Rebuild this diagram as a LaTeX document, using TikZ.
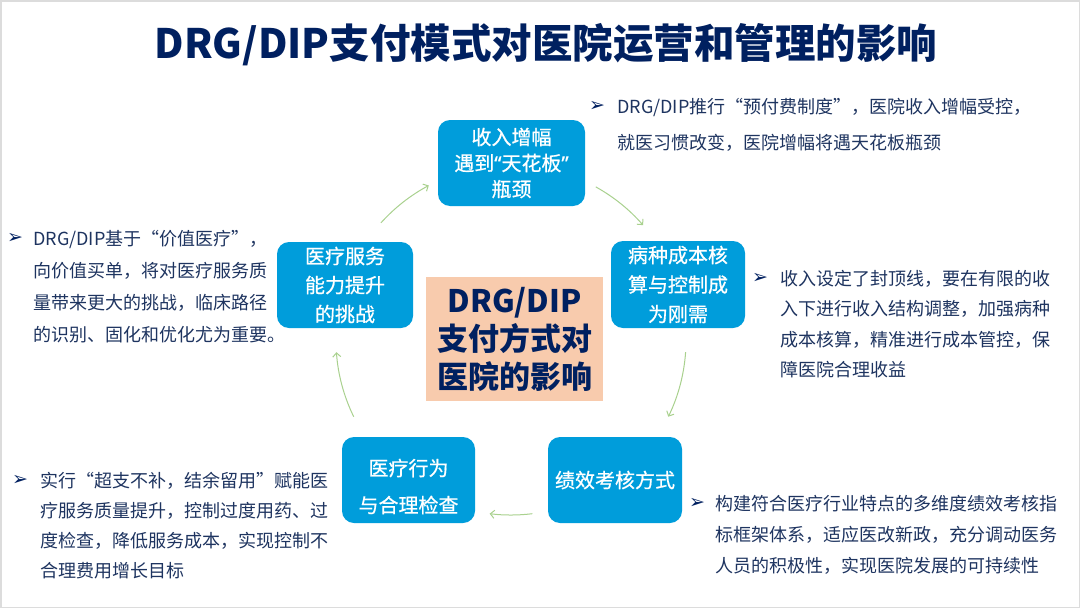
\documentclass[tikz,border=0pt]{standalone}
\usepackage{fontspec}
\setmainfont{Noto Sans CJK SC}
\newfontfamily\boxfont{Noto Sans CJK SC}[FakeBold=0.7]
\newfontfamily\bulletfont{DejaVu Sans}
\newfontfamily\qfont{Noto Sans}[FakeBold=0.7]
\usetikzlibrary{arrows.meta}
\definecolor{boxblue}{RGB}{0,157,219}
\definecolor{peach}{RGB}{248,203,173}
\definecolor{navy}{RGB}{0,32,96}
\definecolor{bodynavy}{RGB}{30,52,96}
\definecolor{arrgreen}{RGB}{169,209,142}
\definecolor{framegray}{RGB}{220,220,220}
\begin{document}
\begin{tikzpicture}[x=1pt,y=-1pt,
  bluebox/.style={fill=boxblue, rounded corners=12pt, text=white, align=center, inner sep=0pt},
  boxtext/.style={text=white, align=center, inner sep=0pt},
  centerbox/.style={fill=peach, text=navy, align=center, inner sep=0pt, font=\fontsize{31}{38}\selectfont\bfseries},
  textblock/.style={text=bodynavy, align=left, anchor=north west, inner sep=0pt},
  bullet/.style={text=navy, inner sep=0pt, font=\bulletfont\fontsize{19}{19}\selectfont},
  cyc/.style={draw=arrgreen, line width=1pt, -{Straight Barb[length=4pt,width=8pt]}}
]
\useasboundingbox (0,0) rectangle (1080,608);
\fill[white] (0,0) rectangle (1080,608);
\draw[framegray, line width=1.5pt] (0.75,0.75) rectangle (1079.25,607.25);

% title
\node[text=navy, inner sep=0pt, font=\fontsize{40.5}{48}\selectfont\bfseries] (title) at (546,45) {DRG/DIP支付模式对医院运营和管理的影响};

% blue boxes
\node[bluebox, minimum width=147pt, minimum height=86pt, font=\boxfont\fontsize{20}{26}\selectfont] (top) at (511.5,163) {收入增幅\\遇到{\qfont“}天花板{\qfont”}\\瓶颈};
\node[bluebox, minimum width=136pt, minimum height=86pt, font=\boxfont\fontsize{20}{29}\selectfont] (left) at (345,285) {医疗服务\\能力提升\\的挑战};
\node[bluebox, minimum width=134pt, minimum height=87pt, font=\boxfont\fontsize{20}{29.5}\selectfont] (right) at (678,284.5) {病种成本核\\算与控制成\\为刚需};
\node[bluebox, minimum width=133pt, minimum height=86pt] (bl) at (408.5,480) {};
\node[boxtext, font=\boxfont\fontsize{20}{37}\selectfont] (bltext) at (408.5,486.5) {医疗行为\\与合理检查};
\node[bluebox, minimum width=134pt, minimum height=86pt, font=\boxfont\fontsize{20}{26}\selectfont] (br) at (615,480) {绩效考核方式};

% center box
\node[centerbox, minimum width=177pt, minimum height=124pt] (center) at (514.5,339) {DRG/DIP\\支付方式对\\医院的影响};

% cycle arrows
\coordinate (a1s) at (380.9,222.9);
\coordinate (a2s) at (595.8,186.9);
\coordinate (a3s) at (685.6,352.2);
\coordinate (a4s) at (532.3,513.7);
\coordinate (a5s) at (353.7,416.7);
\draw[cyc] (a1s) arc[start angle=-138, end angle=-118, radius=175];
\draw[cyc] (a2s) arc[start angle=-61, end angle=-41, radius=175];
\draw[cyc] (a3s) arc[start angle=4, end angle=26, radius=175];
\draw[cyc] (a4s) arc[start angle=83, end angle=97, radius=175];
\draw[cyc] (a5s) arc[start angle=154, end angle=176, radius=175];

% text blocks
\node[bullet] (b1) at (597,106) {➢};
\node[textblock, font=\fontsize{18}{36}\selectfont] (t1) at (617,98) {DRG/DIP推行“预付费制度”，医院收入增幅受控，\\就医习惯改变，医院增幅将遇天花板瓶颈};

\node[bullet] (b2) at (15,238) {➢};
\node[textblock, font=\fontsize{18}{32}\selectfont] (t2) at (33,230) {DRG/DIP基于“价值医疗”，\\向价值买单，将对医疗服务质\\量带来更大的挑战，临床路径\\的识别、固化和优化尤为重要。};

\node[bullet] (b3) at (760,278) {➢};
\node[textblock, font=\fontsize{18}{30.5}\selectfont] (t3) at (780,270) {收入设定了封顶线，要在有限的收\\入下进行收入结构调整，加强病种\\成本核算，精准进行成本管控，保\\障医院合理收益};

\node[bullet] (b4) at (20,480) {➢};
\node[textblock, font=\fontsize{18}{30}\selectfont] (t4) at (40,472) {实行“超支不补，结余留用”赋能医\\疗服务质量提升，控制过度用药、过\\度检查，降低服务成本，实现控制不\\合理费用增长目标};

\node[bullet] (b5) at (697,503) {➢};
\node[textblock, font=\fontsize{18}{31}\selectfont] (t5) at (715,495) {构建符合医疗行业特点的多维度绩效考核指\\标框架体系，适应医改新政，充分调动医务\\人员的积极性，实现医院发展的可持续性};
\end{tikzpicture}
\end{document}
